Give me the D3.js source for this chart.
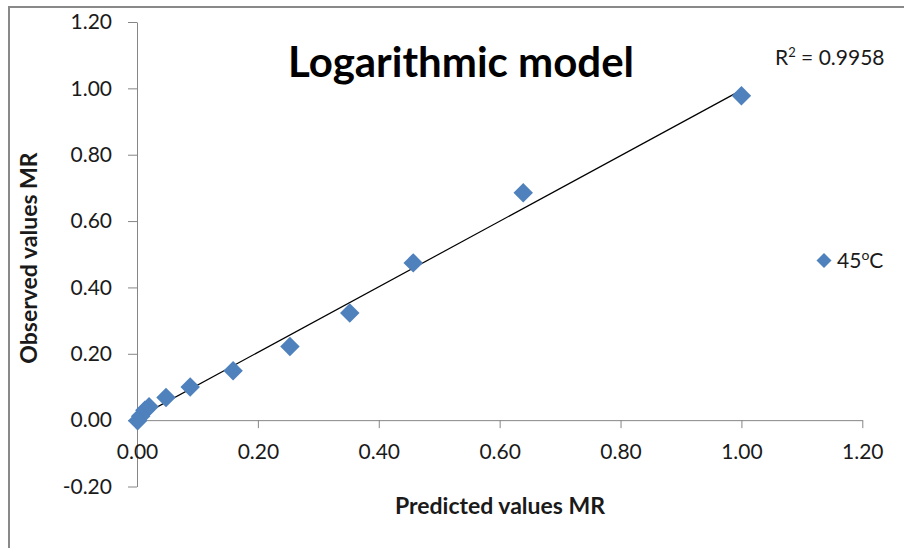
<!DOCTYPE html>
<html>
<head>
<meta charset="utf-8">
<script src="https://cdn.jsdelivr.net/npm/d3@7"></script>
<style>
  body { margin: 0; background: #fff; }
  svg text { font-family: Lato, "Open Sans", sans-serif; fill: #1a1a1a; }
  .axis-text { font-size: 21px; }
  .axis-label { font-size: 23px; font-weight: bold; }
  .title { font-size: 42px; font-weight: bold; fill: #000; }
</style>
</head>
<body>
<div id="chart"></div>
<script>
// predicted vs observed MR, 45oC
const predicted = [1.000, 0.639, 0.457, 0.352, 0.253, 0.159, 0.088, 0.048, 0.020, 0.013, 0.006, 0.001];
const observed  = [0.978, 0.685, 0.474, 0.323, 0.222, 0.149, 0.100, 0.068, 0.040, 0.030, 0.012, -0.002];
const xTicks = [0, 0.2, 0.4, 0.6, 0.8, 1.0, 1.2];
const yTicks = [-0.2, 0, 0.2, 0.4, 0.6, 0.8, 1.0, 1.2];
const seriesName = "45";
const r2Label = "0.9958";

const width = 904, height = 548;
const markerColor = "#4f81bd";
const axisColor = "#868686";

const svg = d3.select("#chart")
  .append("svg")
    .attr("width", width)
    .attr("height", height);

// outer chart frame
svg.append("rect")
  .attr("x", 9).attr("y", 7)
  .attr("width", 1000).attr("height", 1000)
  .attr("fill", "none")
  .attr("stroke", "#898989")
  .attr("stroke-width", 2);

// scales
const x = d3.scaleLinear().domain([0, 1.2]).range([137, 862.3]);
const y = d3.scaleLinear().domain([-0.2, 1.2]).range([486.5, 22]);

// plain hyphen for negatives, like the original
const fmt = d => d3.format(".2f")(d).replace("\u2212", "-");

// y axis
const gy = svg.append("g")
  .attr("transform", "translate(" + x(0) + ",0)")
  .call(d3.axisLeft(y).tickValues(yTicks).tickFormat(fmt).tickSize(9).tickPadding(16).tickSizeOuter(0));

// x axis sits on y = 0
const gx = svg.append("g")
  .attr("transform", "translate(0," + y(0) + ")")
  .call(d3.axisBottom(x).tickValues(xTicks).tickFormat(fmt).tickSize(8).tickPadding(16).tickSizeOuter(0));

[gx, gy].forEach(g => {
  g.select(".domain").attr("stroke", axisColor);
  g.selectAll(".tick line").attr("stroke", axisColor);
  g.selectAll("text").attr("class", "axis-text").attr("fill", "#1a1a1a").attr("font-family", null).attr("font-size", null);
});

// linear trendline (least squares from the points)
const n = predicted.length;
const mx = d3.mean(predicted), my = d3.mean(observed);
let sxy = 0, sxx = 0;
for (let i = 0; i < n; i++) {
  sxy += (predicted[i] - mx) * (observed[i] - my);
  sxx += (predicted[i] - mx) * (predicted[i] - mx);
}
const slope = sxy / sxx, intercept = my - slope * mx;
const x0 = d3.min(predicted), x1 = d3.max(predicted);

svg.append("line")
  .attr("x1", x(x0)).attr("y1", y(slope * x0 + intercept))
  .attr("x2", x(x1)).attr("y2", y(slope * x1 + intercept))
  .attr("stroke", "#000")
  .attr("stroke-width", 1.2);

// markers (diamonds)
const diamond = d3.symbol().type(d3.symbolSquare).size(190);
svg.selectAll(".pt")
  .data(predicted.map((p, i) => ({p: p, o: observed[i]})))
  .enter()
  .append("path")
    .attr("class", "pt")
    .attr("d", diamond)
    .attr("transform", d => "translate(" + x(d.p) + "," + y(d.o) + ") rotate(45)")
    .attr("fill", markerColor);

// title
svg.append("text")
  .attr("class", "title")
  .attr("x", 461).attr("y", 77)
  .attr("text-anchor", "middle")
  .text("Logarithmic model");

// R squared
const r2 = svg.append("text")
  .attr("class", "axis-text")
  .attr("x", 775).attr("y", 65);
r2.append("tspan").text("R");
r2.append("tspan").attr("font-size", "13px").attr("dy", -8).text("2");
r2.append("tspan").attr("dy", 8).text(" = " + r2Label);

// axis labels
svg.append("text")
  .attr("class", "axis-label")
  .attr("text-anchor", "middle")
  .attr("transform", "translate(500,514)")
  .text("Predicted values MR");

svg.append("text")
  .attr("class", "axis-label")
  .attr("text-anchor", "middle")
  .attr("transform", "translate(37,258) rotate(-90)")
  .text("Observed values MR");

// legend
svg.append("path")
  .attr("d", d3.symbol().type(d3.symbolSquare).size(112))
  .attr("transform", "translate(824,260.5) rotate(45)")
  .attr("fill", markerColor);

const leg = svg.append("text")
  .attr("class", "axis-text")
  .attr("x", 837).attr("y", 268);
leg.append("tspan").text(seriesName);
leg.append("tspan").attr("font-size", "14px").attr("dy", -8).text("o");
leg.append("tspan").attr("dy", 8).text("C");
</script>
</body>
</html>
